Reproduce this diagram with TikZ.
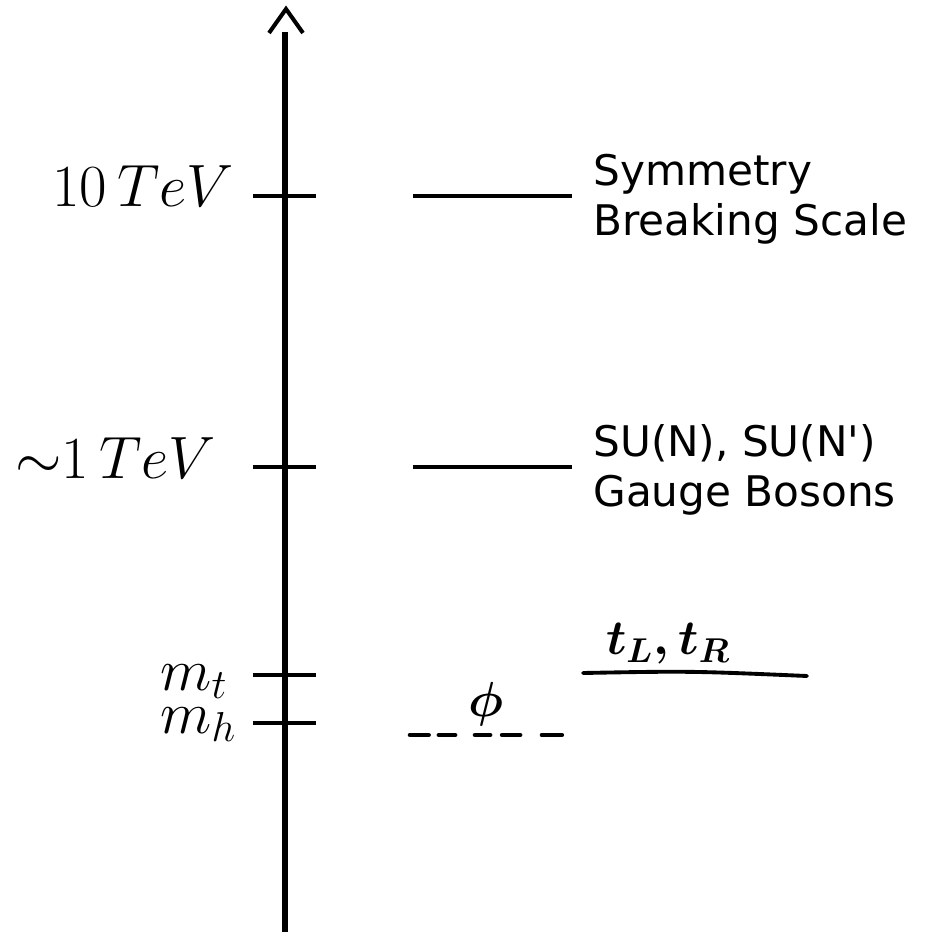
\RequirePackage{fix-cm}
\documentclass[tikz,border=0pt]{standalone}
\usepackage{fontspec}
\newfontfamily\descfont{DejaVu Sans}
\usetikzlibrary{positioning}

\begin{document}
\begin{tikzpicture}[
    x=0.02cm, y=-0.02cm,
    axis/.style={line width=3.2pt},
    tick/.style={line width=2.3pt},
    level/.style={line width=2.1pt},
    scalelbl/.style={font=\fontsize{34}{40}\selectfont, inner sep=0pt},
    desc/.style={font=\descfont\fontsize{24}{28.5}\selectfont, align=left, anchor=north west, inner sep=0pt},
    hand/.style={font=\fontsize{28}{34}\selectfont\boldmath, inner sep=0pt}
]
\useasboundingbox (0,0) rectangle (925,932);

% energy axis
\coordinate (bot) at (285,932);
\coordinate (top) at (285,32);
\draw[axis] (bot) -- (top);
\draw[line width=2.3pt] (269,33) -- (286,9) -- (303,33);

% ticks
\foreach \yy in {196,467,675,723}
    \draw[tick] (253,\yy) -- (316,\yy);

% scale labels
\node[scalelbl, anchor=base east] (tev10) at (234,207) {$10\,TeV$};
\node[scalelbl, anchor=base east] (tev1) at (216,478) {${\sim}1\,TeV$};
\node[scalelbl, anchor=base west] (mt) at (160,690) {$m_t$};
\node[scalelbl, anchor=base west] (mh) at (160,733) {$m_h$};

% levels
\draw[level] (413,196) -- (572,196);
\draw[level] (413,467) -- (572,467);
\draw[line width=2.6pt, line cap=round, dash pattern=on 10.6pt off 5.8pt on 9.3pt off 11.3pt on 8.6pt off 6.8pt on 10.3pt off 12.4pt on 11.3pt]
    (410,735) -- (563,735);
\draw[line width=2.2pt, line cap=round] (583,673) .. controls (690,671) .. (807,676);

% level labels
\node[desc] (sym) at (593,154) {Symmetry\\Breaking Scale};
\node[desc] (gauge) at (593,424) {SU(N), SU(N')\\Gauge Bosons};
\node[hand] (phi) at (486,704) {$\phi$};
\node[hand] (tops) at (668,644) {$t_L, t_R$};
\end{tikzpicture}
\end{document}
